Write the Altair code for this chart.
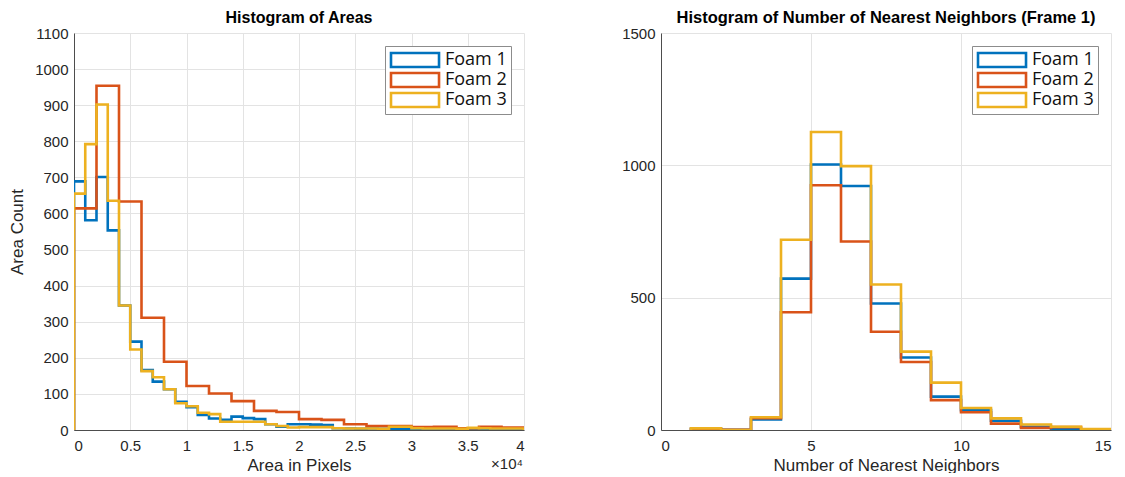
import altair as alt
import pandas as pd

series_names = ["Foam 1", "Foam 2", "Foam 3"]
series_colors = ["#0072BD", "#D95319", "#EDB120"]

# ---- Histogram of Areas (bin widths: Foam 1 & 3 = 1000 px, Foam 2 = 2000 px) ----
area_start = 0
foam1_area_width = 1000
foam2_area_width = 2000
foam3_area_width = 1000
foam1_area = [689, 581, 701, 553, 345, 245, 166, 134, 113, 78, 63, 42, 32, 28, 37, 33,
              30, 16, 9, 16, 16, 15, 14, 5, 4, 3, 4, 3, 2, 2, 2, 1, 1, 1, 0, 1, 2, 1, 1, 1]
foam2_area = [614, 954, 633, 311, 189, 122, 101, 80, 53, 50, 30, 28, 16, 11, 11, 8, 9, 5, 9, 7]
foam3_area = [655, 792, 902, 635, 345, 223, 163, 146, 113, 74, 66, 48, 44, 23, 23, 23,
              23, 16, 11, 7, 8, 8, 8, 5, 4, 4, 4, 3, 9, 9, 5, 4, 4, 4, 3, 6, 5, 4, 4, 4]

# ---- Histogram of Number of Nearest Neighbors (bins of width 1 starting at 1) ----
nn_start = 1
nn_width = 1
foam1_nn = [5, 1, 40, 572, 1003, 922, 478, 274, 126, 75, 35, 12, 5, 1]
foam2_nn = [4, 1, 45, 445, 925, 712, 371, 257, 113, 67, 24, 8, 11, 3]
foam3_nn = [6, 0, 48, 719, 1126, 997, 550, 296, 179, 83, 44, 21, 12, 4]

area_ticks = [0, 5000, 10000, 15000, 20000, 25000, 30000, 35000, 40000]
area_y_ticks = list(range(0, 1101, 100))
nn_x_ticks = [0, 5, 10, 15]
nn_y_ticks = [0, 500, 1000, 1500]


def stairs(counts, start, width, name):
    edges = [start + i * width for i in range(len(counts) + 1)]
    pts = [(edges[0], 0)]
    for i, c in enumerate(counts):
        pts.append((edges[i], c))
    pts.append((edges[-1], counts[-1]))
    pts.append((edges[-1], 0))
    return [{"x": x, "y": y, "series": name, "order": k} for k, (x, y) in enumerate(pts)]


area_df = pd.DataFrame(
    stairs(foam1_area, area_start, foam1_area_width, "Foam 1")
    + stairs(foam2_area, area_start, foam2_area_width, "Foam 2")
    + stairs(foam3_area, area_start, foam3_area_width, "Foam 3")
)
nn_df = pd.DataFrame(
    stairs(foam1_nn, nn_start, nn_width, "Foam 1")
    + stairs(foam2_nn, nn_start, nn_width, "Foam 2")
    + stairs(foam3_nn, nn_start, nn_width, "Foam 3")
)

FONT = "Liberation Sans"
TXT = "#262626"
color_scale = alt.Scale(domain=series_names, range=series_colors)


def make_legend():
    return alt.Legend(
        title=None,
        orient="top-right",
        offset=13,
        strokeColor="#8c8c8c",
        fillColor="white",
        padding=4,
        symbolType="M-1,-1H5.86V1H-1Z",
        symbolSize=196,
        symbolStrokeWidth=2.6,
        symbolFillColor="white",
        labelFont="Open Sans",
        labelFontSize=18,
        labelColor="#111111",
        labelOffset=38,
        labelExpr="datum.label + '\u2003'",
        clipHeight=20,
        rowPadding=0,
    )


W, H = 450, 397

x_axis_common = dict(labelPadding=8, titlePadding=4)

left_lines = alt.Chart(area_df).mark_line(
    interpolate="step-after", strokeWidth=2.6, clip=True
).encode(
    x=alt.X("x:Q", scale=alt.Scale(domain=[0, 40000], nice=False),
            axis=alt.Axis(values=area_ticks, labelExpr="datum.value / 10000",
                          title="Area in Pixels", **x_axis_common)),
    y=alt.Y("y:Q", scale=alt.Scale(domain=[0, 1100], nice=False),
            axis=alt.Axis(values=area_y_ticks, format="d", title="Area Count")),
    color=alt.Color("series:N", scale=color_scale, legend=make_legend()),
    order="order:Q",
)

exp_df = pd.DataFrame({"x": [40000], "label": ["×10⁴"]})
left_exp = alt.Chart(exp_df).mark_text(
    align="right", baseline="top", font=FONT, fontSize=15, color=TXT, dx=-1
).encode(x="x:Q", y=alt.value(H + 27), text="label:N")

left = alt.layer(left_lines, left_exp).properties(
    width=W, height=H,
    title=alt.TitleParams("Histogram of Areas", font=FONT, fontSize=16,
                          fontWeight="bold", color="#000000", offset=0),
)

right = alt.Chart(nn_df).mark_line(
    interpolate="step-after", strokeWidth=2.6, clip=True
).encode(
    x=alt.X("x:Q", scale=alt.Scale(domain=[0, 15], nice=False),
            axis=alt.Axis(values=nn_x_ticks, format="d",
                          title="Number of Nearest Neighbors", **x_axis_common)),
    y=alt.Y("y:Q", scale=alt.Scale(domain=[0, 1500], nice=False),
            axis=alt.Axis(values=nn_y_ticks, format="d", title=None)),
    color=alt.Color("series:N", scale=color_scale, legend=make_legend()),
    order="order:Q",
).properties(
    width=W, height=H,
    title=alt.TitleParams("Histogram of Number of Nearest Neighbors (Frame 1)",
                          font=FONT, fontSize=16.5, fontWeight="bold",
                          color="#000000", offset=0),
)

chart = alt.hconcat(left, right, spacing=97).resolve_scale(
    color="independent"
).resolve_legend(color="independent").configure_view(
    stroke=None
).configure_axis(
    labelFont=FONT, labelFontSize=15, labelColor=TXT,
    titleFont=FONT, titleFontSize=17, titleColor=TXT, titleFontWeight="normal",
    domainColor="#4d4d4d", domainWidth=1,
    gridColor="#e3e3e3", gridWidth=1,
    ticks=False, labelPadding=6,
).configure_axisY(
    titlePadding=8
).properties(padding={"left": 0, "top": 1, "right": 5, "bottom": 0})

chart.save("out.html", embed_options={"renderer": "svg", "actions": False})
